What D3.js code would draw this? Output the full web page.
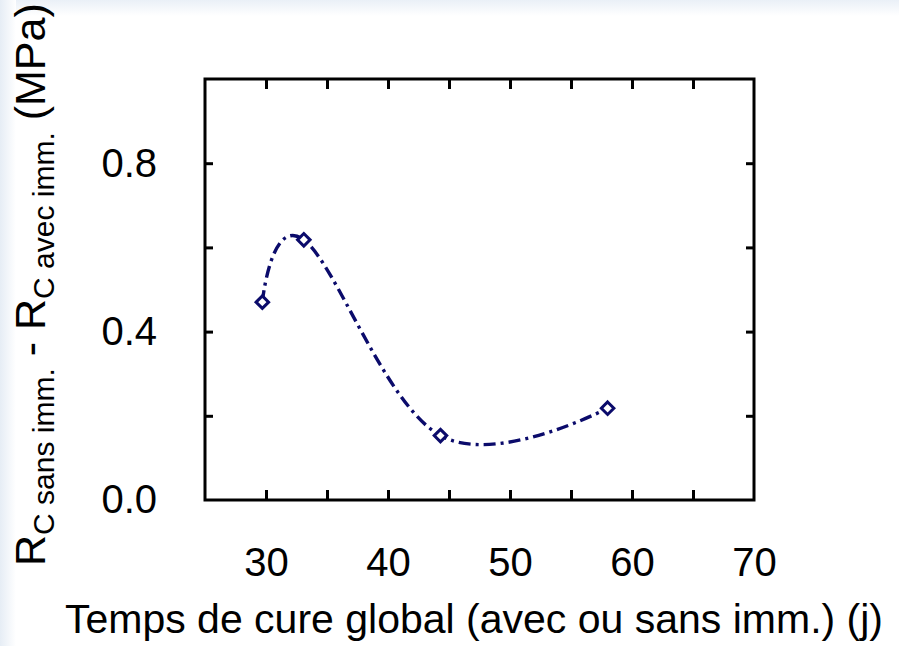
<!DOCTYPE html>
<html>
<head>
<meta charset="utf-8">
<script src="https://cdn.jsdelivr.net/npm/d3@7"></script>
<style>
  body { margin: 0; background: #ffffff; }
  svg { display: block; font-family: "Liberation Sans", Arial, Helvetica, sans-serif; }
</style>
</head>
<body>
<svg id="chart" width="899" height="646"></svg>
<script>
// Global cure time (days) and the strength gap R_c(sans imm.) - R_c(avec imm.) in MPa
const cureDays = [29.7, 33.1, 44.3, 58.0];
const strengthGap = [0.47, 0.618, 0.153, 0.218];

// Axis ticks
const xLabelTicks = [30, 40, 50, 60, 70];
const xMarkTicks = [30, 35, 40, 45, 50, 55, 60, 65];
const yLabelTicks = [0.0, 0.4, 0.8];
const yMarkTicks = [0.2, 0.4, 0.6, 0.8];

const xTitle = "Temps de cure global (avec ou sans imm.) (j)";

const W = 899, H = 646;
const plot = { left: 205, right: 754, top: 79, bottom: 500 };
const ink = "#000000";
const seriesColor = "#0b0b6b";

const svg = d3.select("#chart");

// faint slide-like tint along the left and top edges
const defs = svg.append("defs");
const gl = defs.append("linearGradient").attr("id", "edgeL").attr("x1", 0).attr("x2", 1);
gl.append("stop").attr("offset", 0).attr("stop-color", "#e6edf5");
gl.append("stop").attr("offset", 1).attr("stop-color", "#ffffff");
const gt = defs.append("linearGradient").attr("id", "edgeT").attr("x1", 0).attr("x2", 0).attr("y1", 0).attr("y2", 1);
gt.append("stop").attr("offset", 0).attr("stop-color", "#eaf0f7");
gt.append("stop").attr("offset", 1).attr("stop-color", "#ffffff");
svg.append("rect").attr("width", W).attr("height", H).attr("fill", "#ffffff");
svg.append("rect").attr("x", 0).attr("y", 0).attr("width", W).attr("height", 16).attr("fill", "url(#edgeT)");
svg.append("rect").attr("x", 0).attr("y", 0).attr("width", 16).attr("height", H).attr("fill", "url(#edgeL)");

const x = d3.scaleLinear().domain([25, 70]).range([plot.left, plot.right]);
const y = d3.scaleLinear().domain([0, 1.0]).range([plot.bottom, plot.top]);

// inward tick marks on all four sides
function styleMarks(g) {
  g.select(".domain").remove();
  g.selectAll(".tick line").attr("stroke", ink).attr("stroke-width", 3);
}
svg.append("g").attr("transform", `translate(0,${plot.bottom})`)
  .call(d3.axisBottom(x).tickValues(xMarkTicks).tickSize(-10).tickFormat(""))
  .call(styleMarks);
svg.append("g").attr("transform", `translate(0,${plot.top})`)
  .call(d3.axisTop(x).tickValues(xMarkTicks).tickSize(-10).tickFormat(""))
  .call(styleMarks);
svg.append("g").attr("transform", `translate(${plot.left},0)`)
  .call(d3.axisLeft(y).tickValues(yMarkTicks).tickSize(-8).tickFormat(""))
  .call(styleMarks);
svg.append("g").attr("transform", `translate(${plot.right},0)`)
  .call(d3.axisRight(y).tickValues(yMarkTicks).tickSize(-8).tickFormat(""))
  .call(styleMarks);

// tick labels
function styleLabels(g) {
  g.select(".domain").remove();
  g.selectAll(".tick line").remove();
  g.selectAll(".tick text").attr("fill", ink).attr("font-size", 40)
    .attr("font-family", "'Liberation Sans', Arial, sans-serif");
}
svg.append("g").attr("transform", `translate(0,${plot.bottom})`)
  .call(d3.axisBottom(x).tickValues(xLabelTicks).tickSize(0).tickPadding(48).tickFormat(d3.format("d")))
  .call(styleLabels);
svg.append("g").attr("transform", `translate(${plot.left},0)`)
  .call(d3.axisLeft(y).tickValues(yLabelTicks).tickSize(0).tickPadding(48).tickFormat(d3.format(".1f")))
  .call(styleLabels);

// frame
svg.append("rect")
  .attr("x", plot.left).attr("y", plot.top)
  .attr("width", plot.right - plot.left).attr("height", plot.bottom - plot.top)
  .attr("fill", "none").attr("stroke", ink).attr("stroke-width", 3);

// smoothed dash-dot curve through the measurements
const pts = cureDays.map((d, i) => [d, strengthGap[i]]);
const line = d3.line().x(d => x(d[0])).y(d => y(d[1])).curve(d3.curveCardinal.tension(-0.1));
svg.append("path")
  .attr("d", line(pts))
  .attr("fill", "none")
  .attr("stroke", seriesColor)
  .attr("stroke-width", 3.4)
  .attr("stroke-dasharray", "12,5,3,5");

// open diamond markers
const diamond = d3.symbol().type(d3.symbolDiamond2).size(100);
svg.append("g").selectAll("path").data(pts).join("path")
  .attr("d", diamond)
  .attr("transform", d => `translate(${x(d[0])},${y(d[1])})`)
  .attr("fill", "#ffffff")
  .attr("stroke", seriesColor)
  .attr("stroke-width", 3);

// x-axis title
svg.append("text")
  .attr("x", 883).attr("y", 633)
  .attr("text-anchor", "end")
  .attr("font-size", 41)
  .attr("fill", ink)
  .text(xTitle);

// y-axis title with subscripts
const yt = svg.append("text")
  .attr("transform", "translate(45,566) rotate(-90)")
  .attr("font-size", 43)
  .attr("fill", ink);
yt.append("tspan").text("R");
yt.append("tspan").attr("font-size", 30).attr("dy", 9).text("C sans imm.");
yt.append("tspan").attr("dy", -9).text(" - R");
yt.append("tspan").attr("font-size", 30).attr("dy", 9).text("C avec imm.");
yt.append("tspan").attr("dy", -9).text(" (MPa)");
</script>
</body>
</html>
